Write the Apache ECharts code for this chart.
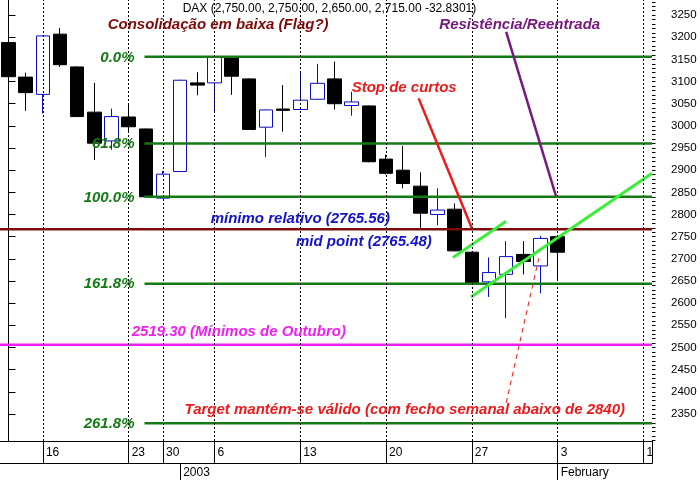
<!DOCTYPE html>
<html><head><meta charset="utf-8">
<script src="https://cdn.jsdelivr.net/npm/echarts@6/dist/echarts.min.js"></script>
<style>html,body{margin:0;padding:0;background:#fff}#c{width:700px;height:498px}</style>
</head><body><div id="c"></div>
<script>
// ---- data ----
const dates = ['2002-12-12','2002-12-13','2002-12-16','2002-12-17','2002-12-18','2002-12-19','2002-12-20',
  '2002-12-23','2002-12-27','2002-12-30','2003-01-02','2003-01-03','2003-01-06','2003-01-07','2003-01-08',
  '2003-01-09','2003-01-10','2003-01-13','2003-01-14','2003-01-15','2003-01-16','2003-01-17','2003-01-20',
  '2003-01-21','2003-01-22','2003-01-23','2003-01-24','2003-01-27','2003-01-28','2003-01-29','2003-01-30',
  '2003-01-31','2003-02-03','2003-02-04','2003-02-05','2003-02-06','2003-02-07','2003-02-10'];
const opens  = [3188,3110,3071,3207,3133,3031,2966,3020,2993,2837,2897,3097,3097,3154,3106,2997,3038,3037,3060,3106,3046,3045,2925,2900,2864,2800,2812,2715,2648,2665,2710,2684,2750];
const closes = [3111,3075,3203,3138,3021,2961,3021,2998,2840,2891,3103,3092,3156,3112,2992,3036,3035,3058,3096,3050,3054,2919,2893,2870,2803,2810,2718,2646,2669,2705,2694,2746,2715];
const lows   = [3097,3034,3028,3133,3020,2923,2946,2988,2839,2836,2896,3069,3030,3070,2991,2930,2987,3036,3059,3037,3023,2918,2890,2859,2769,2776,2717,2645,2614,2566,2665,2622,2650];
const highs  = [3205,3120,3204,3221,3134,3097,3039,3049,2994,2898,3104,3121,3157,3155,3107,3037,3092,3124,3140,3145,3077,3046,2935,2955,2895,2859,2825,2716,2703,2740,2740,2752,2750];

const weekTickIdx = [2,7,9,12,17,22,27,32,37];
const weekTickLabels = ['16','23','30','6','13','20','27','3','10'];
const periodTickIdx = [10,32];
const periodTickLabels = ['2003','February'];
const yTickLabels = [2350,2400,2450,2500,2550,2600,2650,2700,2750,2800,2850,2900,2950,3000,3050,3100,3150,3200,3250];

const fibLevels = [3156,2960,2840,2644,2329];
const fibLabels = ['0.0%','61.8%','100.0%','161.8%','261.8%'];
const fibStart = 7.92;
const midLevel = 2766.6;
const octoberLevel = 2506;
const stopLine = [[23.9,3062],[27.0,2769]];
const resistLine = [[29.0,3212],[31.9,2842]];
const flagLine = [[25.9,2703],[29.0,2785]];
const supportLine = [[26.95,2614],[37.5,2893]];
const targetLine = [[29.0,2375],[30.9,2701]];

const titleText = 'DAX (2,750.00, 2,750.00, 2,650.00, 2,715.00 -32.8301)';

// ---- styles ----
const FONT = '"Liberation Sans", Arial, sans-serif';
const BI = 'italic bold 15px ' + FONT;
const GREEN = '#147a14', DARKRED = '#800a0a', MAGENTA = '#f01ef0', LIME = '#3cee3c',
      PURPLE = '#761a80', RED = '#ec1a1a', BLUE = '#0c0cc4', TXTBLUE = '#1212c8';
const XMIN = -0.5, XMAX = dates.length - 0.5;
const YMIN = 2289, YMAX = 3284;
const minorTicks = [];
for (let v = 2290; v <= 3280; v += 10) minorTicks.push(v);

function seg(data, color, width, type, z) {
  return { type: 'line', xAxisIndex: 1, yAxisIndex: 0, data: data, symbol: 'none', silent: true,
    lineStyle: { color: color, width: width, type: type || 'solid' }, z: z || 4, animation: false };
}

const candleData = opens.map((o, i) => [o, closes[i], lows[i], highs[i]]);

const series = [
  { type: 'line', xAxisIndex: 1, yAxisIndex: 0, data: [[0, 3000]], symbol: 'none', silent: true,
    lineStyle: { opacity: 0 }, z: 1,
    markLine: { silent: true, symbol: ['none','none'], label: { show: false }, animation: false,
      lineStyle: { color: '#000', width: 1, type: [2,2] },
      data: weekTickIdx.map(i => ({ xAxis: i })) } },
  { type: 'candlestick', xAxisIndex: 0, yAxisIndex: 0, data: candleData, barWidth: 14, z: 2, silent: true,
    itemStyle: { color: '#ffffff', color0: '#000000', borderColor: BLUE, borderColor0: '#000000', borderWidth: 1 } }
];
fibLevels.forEach(lv => series.push(seg([[fibStart, lv],[XMAX, lv]], GREEN, 2.5)));
series.push(seg([[XMIN, midLevel],[XMAX, midLevel]], DARKRED, 2.5));
series.push(seg([[XMIN, octoberLevel],[XMAX, octoberLevel]], MAGENTA, 2.5));
series.push(seg(stopLine, RED, 2.5));
series.push(seg(resistLine, PURPLE, 2.5));
series.push(seg(flagLine, LIME, 3));
series.push(seg(supportLine, LIME, 3));
series.push(seg(targetLine, RED, 1, [5,4]));

const chart = echarts.init(document.getElementById('c'), null, { renderer: 'canvas' });
chart.setOption({
  animation: false,
  backgroundColor: '#ffffff',
  grid: { left: 0, right: 48, top: 0, bottom: 57, containLabel: false },
  xAxis: [
    { type: 'category', data: dates, boundaryGap: true, position: 'bottom',
      axisLine: { show: true, lineStyle: { color: '#000', width: 1 } },
      axisTick: { show: true, alignWithLabel: true, length: 22, lineStyle: { color: '#000' },
        interval: (i) => weekTickIdx.indexOf(i) >= 0 },
      axisLabel: { show: true, align: 'left', padding: [0,0,0,3], margin: 6, color: '#000', fontSize: 12, fontFamily: FONT,
        interval: (i) => weekTickIdx.indexOf(i) >= 0,
        formatter: (v, i) => { const k = weekTickIdx.indexOf(i); return k >= 0 ? weekTickLabels[k] : ''; } },
      splitLine: { show: false } },
    { type: 'value', min: XMIN, max: XMAX, show: false },
    { type: 'category', data: dates, boundaryGap: true, position: 'bottom', offset: 22,
      axisLine: { show: true, lineStyle: { color: '#000', width: 1 } },
      axisTick: { show: true, alignWithLabel: true, length: 17, lineStyle: { color: '#000' },
        interval: (i) => periodTickIdx.indexOf(i) >= 0 },
      axisLabel: { show: true, align: 'left', padding: [0,0,0,3], margin: 4, color: '#000', fontSize: 12, fontFamily: FONT,
        interval: (i) => periodTickIdx.indexOf(i) >= 0,
        formatter: (v, i) => { const k = periodTickIdx.indexOf(i); return k >= 0 ? periodTickLabels[k] : ''; } },
      splitLine: { show: false } }
  ],
  yAxis: [
    { type: 'value', position: 'right', min: YMIN, max: YMAX, scale: true,
      axisLine: { show: true, lineStyle: { color: '#000', width: 1 } },
      axisTick: { show: true, length: 7, customValues: yTickLabels, lineStyle: { color: '#000' } },
      axisLabel: { show: true, customValues: yTickLabels, margin: 19, color: '#000', fontSize: 11.5, fontFamily: FONT,
        padding: [4,0,0,0], formatter: (v) => String(Math.round(v)) },
      splitLine: { show: false } },
    { type: 'value', position: 'right', min: YMIN, max: YMAX, scale: true,
      axisLine: { show: false },
      axisTick: { show: true, length: 3.5, customValues: minorTicks, lineStyle: { color: '#000' } },
      axisLabel: { show: false },
      splitLine: { show: false } }
  ],
  series: series
});

// ---- annotations ----
const elements = [];
function txt(text, x, y, font, fill, align) {
  elements.push({ type: 'text', z: 100, silent: true,
    style: { text: text, x: x, y: y, font: font, fill: fill, align: align || 'left', verticalAlign: 'middle' } });
}
fibLevels.forEach((lv, i) => {
  const py = chart.convertToPixel({ yAxisIndex: 0 }, lv);
  txt(fibLabels[i], 134.5, py + 0.7, BI, GREEN, 'right');
});
txt(titleText, 182.7, 9, '12px ' + FONT, '#000');
txt('Consolidação em baixa (Flag?)', 107.7, 24.8, BI, DARKRED);
txt('Resistência/Reentrada', 439.3, 25, BI, PURPLE);
txt('Stop de curtos', 351.7, 87.7, BI, RED);
txt('mínimo relativo (2765.56)', 210.7, 218.6, BI, TXTBLUE);
txt('mid point (2765.48)', 296, 241.4, BI, TXTBLUE);
txt('2519.30 (Mínimos de Outubro)', 131.7, 331.6, BI, MAGENTA);
txt('Target mantém-se válido (com fecho semanal abaixo de 2840)', 625, 410, BI, RED, 'right');
// clip the last date label at the frame, as in the source
elements.push({ type: 'rect', z: 90, silent: true, shape: { x: 652.5, y: 442, width: 10, height: 21 }, style: { fill: '#fff' } });
elements.push({ type: 'line', z: 91, silent: true, shape: { x1: 652.5, y1: 441, x2: 652.5, y2: 463.5 }, style: { stroke: '#000', lineWidth: 1 } });
chart.setOption({ graphic: { elements: elements } });
</script>
</body></html>
